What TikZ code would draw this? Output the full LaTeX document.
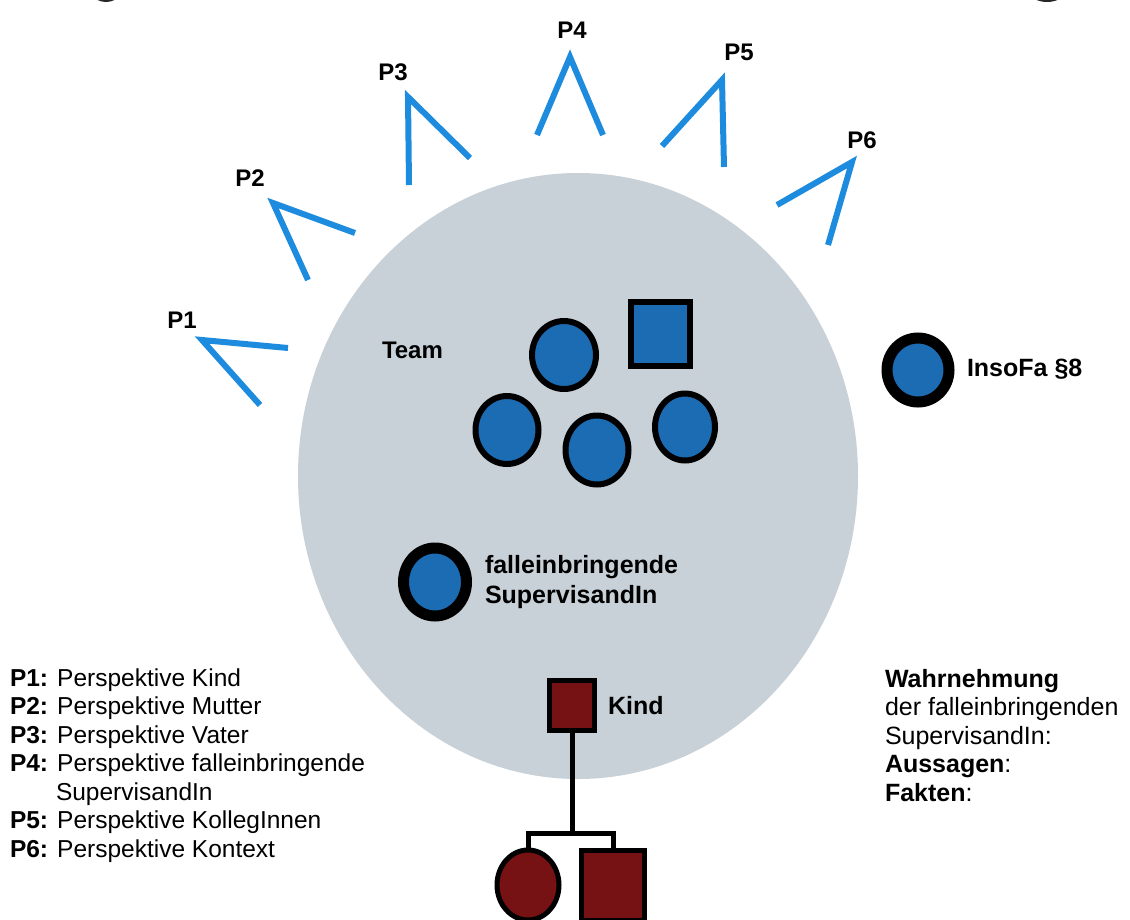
\documentclass[tikz,border=0pt]{standalone}
\usepackage{fontspec}
\setmainfont{Liberation Sans}
\usetikzlibrary{shapes.geometric}
\definecolor{teamblue}{RGB}{28,108,180}
\definecolor{vblue}{RGB}{30,140,222}
\definecolor{bggray}{RGB}{201,209,216}
\definecolor{kindred}{RGB}{118,18,20}
\begin{document}
\begin{tikzpicture}[x=1pt,y=-1pt,
  every node/.style={inner sep=0pt, outer sep=0pt},
  member/.style={ellipse, draw=black, fill=teamblue, line width=6pt},
  membersq/.style={rectangle, draw=black, fill=teamblue, line width=6pt},
  keyperson/.style={ellipse, draw=black, fill=teamblue, line width=11pt},
  famsq/.style={rectangle, draw=black, fill=kindred, line width=5pt},
  famcirc/.style={ellipse, draw=black, fill=kindred, line width=5pt},
  ped/.style={draw=black, line width=5pt},
  vshape/.style={draw=vblue, line width=6pt, line join=miter},
  plabel/.style={font=\bfseries\fontsize{24}{28}\selectfont},
  blabel/.style={font=\bfseries\fontsize{25}{30}\selectfont, anchor=base west},
  legend/.style={font=\fontsize{24.5}{28.5}\selectfont, anchor=base west},
  rtext/.style={font=\fontsize{25}{28.5}\selectfont, anchor=base west}
]
\useasboundingbox (0,0) rectangle (1130,919);
\fill[white] (0,0) rectangle (1130,919);
% partial dark shapes at top edge
\fill[black!85] (106,-28) ellipse [x radius=24, y radius=30];
\fill[black!85] (1047,-30) ellipse [x radius=30, y radius=32];
% team area
\fill[bggray] (578,476) ellipse [x radius=280, y radius=303];

% perspective shapes
\draw[vshape] (288,348) -- (202,340) -- (260,405);
\draw[vshape] (355,233) -- (273,203) -- (308,280);
\draw[vshape] (470,158) -- (408,97) -- (409,185);
\draw[vshape] (537,135) -- (570,57) -- (603,135);
\draw[vshape] (662,146) -- (722,80) -- (724,167);
\draw[vshape] (777,205) -- (852,162) -- (828,245);
\node[plabel] (p1) at (182,320) {P1};
\node[plabel] (p2) at (250,178) {P2};
\node[plabel] (p3) at (393,72) {P3};
\node[plabel] (p4) at (572,30) {P4};
\node[plabel] (p5) at (739,52) {P5};
\node[plabel] (p6) at (862,140) {P6};

% team
\node[blabel, font=\bfseries\fontsize{24}{28}\selectfont] (team) at (382,358) {Team};
\node[member, minimum width=64pt, minimum height=68pt] (t1) at (564,355) {};
\node[membersq, minimum width=59pt, minimum height=64pt] (t0) at (660.5,334) {};
\node[member, minimum width=63pt, minimum height=68pt] (t2) at (507,430) {};
\node[member, minimum width=63pt, minimum height=69pt] (t3) at (597,450) {};
\node[member, minimum width=60pt, minimum height=67pt] (t4) at (685,427) {};

% case-presenting supervisee
\node[keyperson, minimum width=63pt, minimum height=68pt] (fall) at (435,582) {};
\node[blabel] (falltxt1) at (485,573) {falleinbringende};
\node[blabel] (falltxt2) at (485,603) {SupervisandIn};

% InsoFa
\node[keyperson, minimum width=62pt, minimum height=64pt] (inso) at (918,370) {};
\node[blabel] (insotxt) at (967,376) {InsoFa §8};

% child and family
\node[famsq, minimum width=45pt, minimum height=50pt] (kind) at (572,705.5) {};
\node[blabel] (kindtxt) at (608,714) {Kind};
\node[famcirc, minimum width=62pt, minimum height=70pt] (c1) at (528,885) {};
\node[famsq, minimum width=63pt, minimum height=70pt] (c2) at (613,885) {};
\coordinate (bar) at (572,833);
\draw[ped] (kind.south) -- (kind.south |- bar);
\draw[ped] (c1.north) -- (c1.north |- bar) -- (c2.north |- bar) -- (c2.north);

% legend
\node[legend] (l1) at (10,686) {\textbf{P1:} Perspektive Kind};
\node[legend] (l2) at (10,714.5) {\textbf{P2:} Perspektive Mutter};
\node[legend] (l3) at (10,743) {\textbf{P3:} Perspektive Vater};
\node[legend] (l4) at (10,771.5) {\textbf{P4:} Perspektive falleinbringende};
\node[legend] (l4b) at (56,800) {SupervisandIn};
\node[legend] (l5) at (10,828.5) {\textbf{P5:} Perspektive KollegInnen};
\node[legend] (l6) at (10,857) {\textbf{P6:} Perspektive Kontext};

% right text
\node[rtext] (r1) at (885,687) {\textbf{Wahrnehmung}};
\node[rtext] (r2) at (885,715.5) {der falleinbringenden};
\node[rtext] (r3) at (885,744) {SupervisandIn:};
\node[rtext] (r4) at (885,772.5) {\textbf{Aussagen}:};
\node[rtext] (r5) at (885,801) {\textbf{Fakten}:};
\end{tikzpicture}
\end{document}
